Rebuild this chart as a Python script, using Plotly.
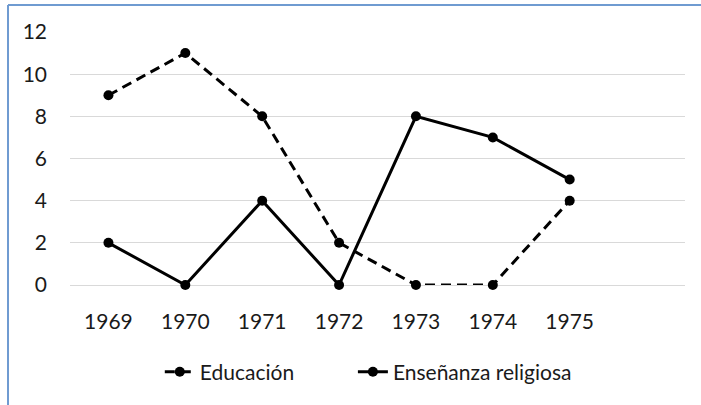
import plotly.graph_objects as go

years = ["1969", "1970", "1971", "1972", "1973", "1974", "1975", " "]
educacion = [9, 11, 8, 2, 0, 0, 4]
ensenanza = [2, 0, 4, 0, 8, 7, 5]
y_ticks = [0, 2, 4, 6, 8, 10, 12]

font_family = "Lato, 'Open Sans', sans-serif"
txt_color = "#1a1a1a"
border_color = "#6f9bd1"

fig = go.Figure()
fig.add_trace(go.Scatter(
    x=years[:len(educacion)], y=educacion, name="Educación",
    mode="lines+markers", cliponaxis=False, legend="legend",
    line=dict(color="black", width=3, dash="10px,6px"),
    marker=dict(color="black", size=10, symbol="circle"),
))
fig.add_trace(go.Scatter(
    x=years[:len(ensenanza)], y=ensenanza, name="Enseñanza religiosa",
    mode="lines+markers", cliponaxis=False, legend="legend2",
    line=dict(color="black", width=3),
    marker=dict(color="black", size=10, symbol="circle"),
))

legend_common = dict(orientation="h", xanchor="left", y=-0.344, yanchor="middle",
                     font=dict(size=21, color=txt_color), bgcolor="rgba(0,0,0,0)")

fig.update_layout(
    width=701, height=405,
    margin=dict(l=70, r=16, t=32, b=120, autoexpand=False),
    paper_bgcolor="white", plot_bgcolor="white",
    font=dict(family=font_family, size=21, color=txt_color),
    showlegend=True,
    legend=dict(x=0.146, **legend_common),
    legend2=dict(x=0.460, **legend_common),
    xaxis=dict(type="category", categoryorder="array", categoryarray=years,
               range=[-0.5, 7.5], showgrid=False, zeroline=False, showline=False,
               ticks="", ticklabelstandoff=22, automargin=False),
    yaxis=dict(range=[0, 12], tickvals=y_ticks, showgrid=True, gridcolor="#d9d9d9",
               gridwidth=1, zeroline=True, zerolinecolor="#d9d9d9", zerolinewidth=1,
               showline=False, ticks="", ticklabelstandoff=22, automargin=False),
    shapes=[
        dict(type="line", xref="paper", yref="paper", layer="above",
             x0=-0.1008, x1=-0.1008, y0=-1.0, y1=1.1067,
             line=dict(color=border_color, width=2)),
        dict(type="line", xref="paper", yref="paper", layer="above",
             x0=-0.1008, x1=1.1, y0=1.1067, y1=1.1067,
             line=dict(color=border_color, width=2)),
    ],
)

fig.write_html("out.html", config={"displayModeBar": False},
               post_script="document.body.style.margin='0px';document.body.style.overflow='hidden';")
